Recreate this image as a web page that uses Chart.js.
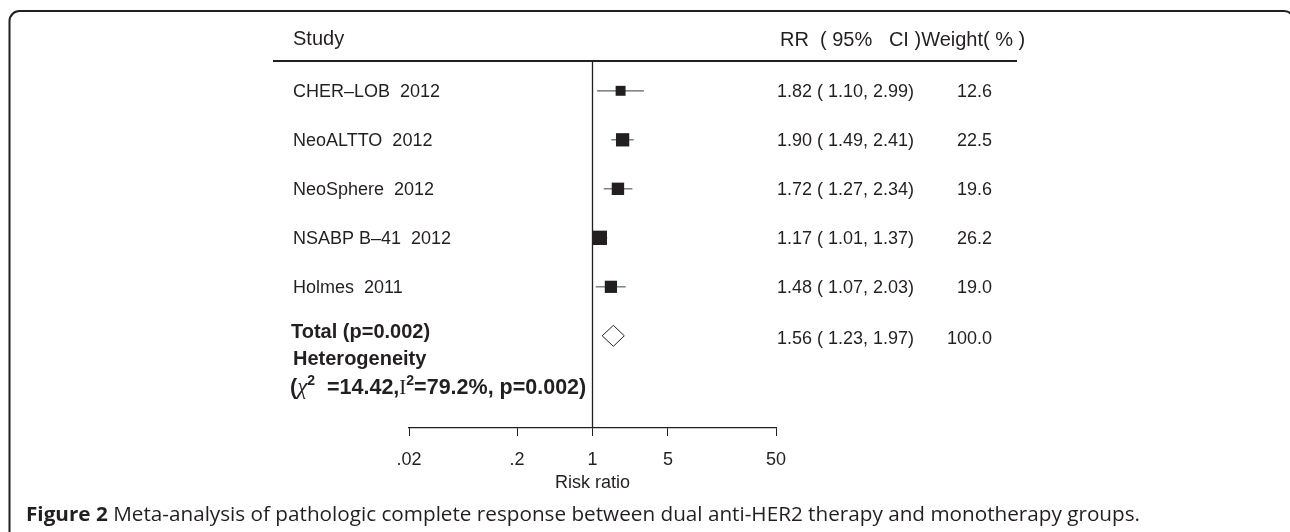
<!DOCTYPE html>
<html>
<head>
<meta charset="utf-8">
<script src="https://cdn.jsdelivr.net/npm/chart.js@4.4.1/dist/chart.umd.min.js"></script>
<style>
  html, body { margin: 0; padding: 0; background: #fff; }
  #wrap { width: 1290px; height: 532px; }
</style>
</head>
<body>
<div id="wrap"><canvas id="forest" width="1290" height="532"></canvas></div>
<script>
// Forest plot: dual anti-HER2 vs monotherapy, pCR risk ratio per study.
const studies = ['CHER\u2013LOB  2012', 'NeoALTTO  2012', 'NeoSphere  2012', 'NSABP B\u201341  2012', 'Holmes  2011'];
const rr = [1.82, 1.90, 1.72, 1.17, 1.48];
const ciLow = [1.10, 1.49, 1.27, 1.01, 1.07];
const ciHigh = [2.99, 2.41, 2.34, 1.37, 2.03];
const weights = [12.6, 22.5, 19.6, 26.2, 19.0];

const pooledRR = 1.56;
const pooledLow = 1.23;
const pooledHigh = 1.97;
const pooledWeight = 100.0;

const xTicks = [0.02, 0.2, 1, 5, 50];
const xTickLabels = ['.02', '.2', '1', '5', '50'];

const INK = '#231f20';
const SANS = '"Liberation Sans", Arial, Helvetica, sans-serif';
const SERIF = '"Liberation Serif", "Times New Roman", serif';
const Y_MIN = -0.588, Y_MAX = 6.881;   // row units, row 0 at top
const TOTAL_ROW = studies.length;
const DIAMOND_HALF = 0.214;            // half height of pooled diamond, rows

const f = (size, weight) => `${weight || 'normal'} ${size}px ${SANS}`;

const ciSets = studies.map((s, i) => ({
    type: 'line',
    data: [{ x: ciLow[i], y: i }, { x: ciHigh[i], y: i }],
    borderColor: '#5f6062',
    borderWidth: 1.2,
    pointRadius: 0,
    order: 2,
}));

const forestText = {
    id: 'forestText',
    afterDraw(chart) {
        const { ctx } = chart;
        const y = chart.scales.y;
        ctx.save();
        ctx.strokeStyle = INK;
        ctx.fillStyle = INK;

        // frame
        ctx.lineWidth = 2;
        ctx.beginPath();
        ctx.moveTo(9.5, 545);
        ctx.lineTo(9.5, 21);
        ctx.arcTo(9.5, 11, 19.5, 11, 10);
        ctx.lineTo(1284, 11);
        ctx.arcTo(1294, 11, 1294, 21, 10);
        ctx.lineTo(1294, 545);
        ctx.stroke();

        // header
        ctx.textBaseline = 'alphabetic';
        ctx.font = f(20);
        ctx.textAlign = 'left';
        ctx.fillText('Study', 293, 45);
        ctx.fillText('RR  ( 95%   CI )Weight( % )', 780, 46);
        ctx.beginPath();
        ctx.moveTo(273, 61);
        ctx.lineTo(1017, 61);
        ctx.stroke();

        // study rows
        ctx.font = f(18);
        studies.forEach((s, i) => {
            const py = y.getPixelForValue(i) + 6.5;
            ctx.textAlign = 'left';
            ctx.fillText(s, 293, py);
            ctx.fillText(`${rr[i].toFixed(2)} ( ${ciLow[i].toFixed(2)}, ${ciHigh[i].toFixed(2)})`, 777, py);
            ctx.textAlign = 'right';
            ctx.fillText(weights[i].toFixed(1), 992, py);
        });

        // pooled row
        const ty = y.getPixelForValue(TOTAL_ROW);
        ctx.textAlign = 'left';
        ctx.fillText(`${pooledRR.toFixed(2)} ( ${pooledLow.toFixed(2)}, ${pooledHigh.toFixed(2)})`, 777, ty + 8);
        ctx.textAlign = 'right';
        ctx.fillText(pooledWeight.toFixed(1), 992, ty + 8);

        ctx.textAlign = 'left';
        ctx.font = f(20, 'bold');
        ctx.fillText('Total (p=0.002)', 291, ty + 2);
        ctx.fillText('Heterogeneity', 293, ty + 29);

        // (chi2 =14.42, I2=79.2%, p=0.002)
        const by = ty + 58;
        let x = 290;
        const piece = (txt, font, dy) => {
            ctx.font = font;
            ctx.fillText(txt, x, by + (dy || 0));
            x += ctx.measureText(txt).width;
        };
        piece('(', f(21.5, 'bold'));
        piece('\u03c7', `italic 23px ${SERIF}`);
        piece('2', f(14, 'bold'), -9);
        piece('  =14.42,', f(21.5, 'bold'));
        piece('I', `21px ${SERIF}`);
        piece('2', f(14, 'bold'), -9);
        piece('=79.2%, p=0.002)', f(21.5, 'bold'));

        // caption
        const capBold = 'Figure 2';
        const capRest = ' Meta-analysis of pathologic complete response between dual anti-HER2 therapy and monotherapy groups.';
        const bf = '700 20px "Open Sans", "Noto Sans", sans-serif';
        const rf = 'normal 20px "Open Sans", "Noto Sans", sans-serif';
        ctx.font = bf;
        const wb = ctx.measureText(capBold).width;
        ctx.font = rf;
        const wr = ctx.measureText(capRest).width;
        const sx = 1114 / (wb + wr);
        ctx.translate(26, 521);
        ctx.scale(sx, 1);
        ctx.font = bf;
        ctx.fillText(capBold, 0, 0);
        ctx.font = rf;
        ctx.fillText(capRest, wb, 0);
        ctx.restore();
    }
};

new Chart(document.getElementById('forest'), {
    type: 'scatter',
    data: {
        datasets: [
            {
                label: 'study RR',
                data: rr.map((v, i) => ({ x: v, y: i })),
                pointStyle: 'rect',
                pointRadius: c => 1.98 * Math.sqrt(weights[c.dataIndex]),
                backgroundColor: INK,
                borderWidth: 0,
                order: 0,
            },
            ...ciSets,
            {
                label: 'pooled',
                type: 'line',
                data: [
                    { x: pooledLow, y: TOTAL_ROW },
                    { x: pooledRR, y: TOTAL_ROW - DIAMOND_HALF },
                    { x: pooledHigh, y: TOTAL_ROW },
                    { x: pooledRR, y: TOTAL_ROW + DIAMOND_HALF },
                    { x: pooledLow, y: TOTAL_ROW },
                ],
                borderColor: INK,
                borderWidth: 1,
                pointRadius: 0,
                tension: 0,
                order: 1,
            },
            {
                label: 'no effect',
                type: 'line',
                data: [{ x: 1, y: Y_MIN }, { x: 1, y: Y_MAX }],
                borderColor: INK,
                borderWidth: 1.3,
                pointRadius: 0,
                order: 3,
            },
        ],
    },
    options: {
        responsive: false,
        animation: false,
        devicePixelRatio: 1,
        events: [],
        layout: { padding: { left: 409, right: 514, top: 62, bottom: 38.5 } },
        plugins: { legend: { display: false }, tooltip: { enabled: false } },
        scales: {
            x: {
                type: 'logarithmic',
                min: 0.02,
                max: 50,
                afterBuildTicks: s => { s.ticks = xTicks.map(v => ({ value: v })); },
                afterFit: s => { s.height = 65.5; },
                ticks: {
                    callback: (v, i) => xTickLabels[i],
                    color: INK,
                    font: { family: SANS, size: 18 },
                    padding: 13,
                    maxRotation: 0,
                    autoSkip: false,
                },
                grid: { drawOnChartArea: false, drawTicks: true, tickLength: 8, color: INK, lineWidth: 1 },
                border: { display: true, color: INK, width: 1.2 },
                title: {
                    display: true,
                    text: 'Risk ratio',
                    color: INK,
                    font: { family: SANS, size: 18 },
                    padding: { top: 0, bottom: 0 },
                },
            },
            y: { type: 'linear', reverse: true, min: Y_MIN, max: Y_MAX, display: false },
        },
    },
    plugins: [forestText],
});
</script>
</body>
</html>
